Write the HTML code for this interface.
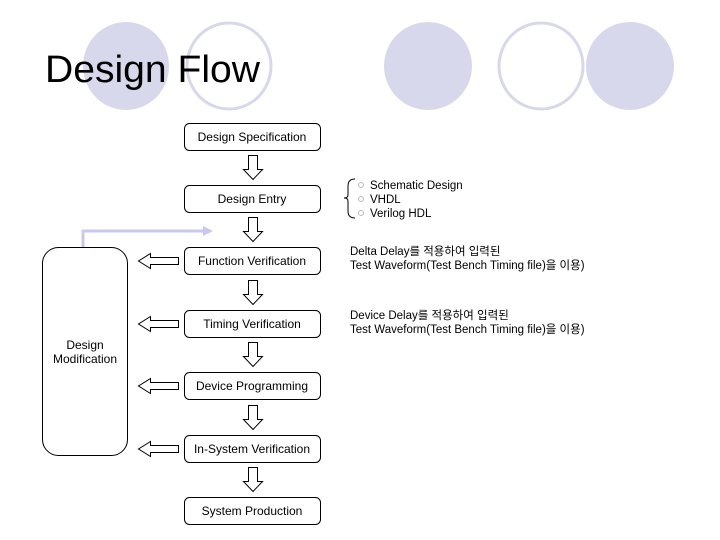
<!DOCTYPE html>
<html><head><meta charset="utf-8"><style>
body{margin:0;background:#fff;}
svg{display:block;}
text{font-family:"Liberation Sans","Noto Sans CJK KR",sans-serif;fill:#000;}
</style></head><body>
<svg width="720" height="540" viewBox="0 0 720 540" xmlns="http://www.w3.org/2000/svg">
<ellipse cx="126" cy="66" rx="43" ry="44" fill="#d8d8ec"/>
<ellipse cx="229" cy="66" rx="42" ry="43" fill="#fff" stroke="#d8d8ec" stroke-width="3"/>
<ellipse cx="428" cy="66" rx="44" ry="44" fill="#d8d8ec"/>
<ellipse cx="541" cy="66" rx="42" ry="43" fill="#fff" stroke="#d8d8ec" stroke-width="3"/>
<ellipse cx="630" cy="66" rx="44" ry="44" fill="#d8d8ec"/>
<text x="45" y="82" font-size="38" textLength="215" lengthAdjust="spacingAndGlyphs">Design Flow</text>

<g fill="#fff" stroke="#000" stroke-width="1">
<rect x="184.5" y="123.5" width="136" height="27" rx="5"/>
<rect x="184.5" y="185.5" width="136" height="27" rx="5"/>
<rect x="184.5" y="247.5" width="136" height="27" rx="5"/>
<rect x="184.5" y="310.5" width="136" height="27" rx="5"/>
<rect x="184.5" y="372.5" width="136" height="27" rx="5"/>
<rect x="184.5" y="435.5" width="136" height="27" rx="5"/>
<rect x="184.5" y="497.5" width="136" height="27" rx="5"/>
<rect x="42.5" y="247.5" width="85" height="208" rx="16"/>
</g>
<g font-size="12" text-anchor="middle">
<text x="252" y="141">Design Specification</text>
<text x="252" y="203">Design Entry</text>
<text x="252" y="265">Function Verification</text>
<text x="252" y="328">Timing Verification</text>
<text x="252" y="390">Device Programming</text>
<text x="252" y="453">In-System Verification</text>
<text x="252" y="515">System Production</text>
<text x="85" y="349">Design</text>
<text x="85" y="363">Modification</text>
</g>

<g fill="#fff" stroke="#000" stroke-width="1">
<polygon points="248.5,155.5 257.5,155.5 257.5,169.5 262.5,169.5 253,179.5 243.5,169.5 248.5,169.5"/>
<polygon points="248.5,217.5 257.5,217.5 257.5,231.5 262.5,231.5 253,241.5 243.5,231.5 248.5,231.5"/>
<polygon points="248.5,280.5 257.5,280.5 257.5,294.5 262.5,294.5 253,304.5 243.5,294.5 248.5,294.5"/>
<polygon points="248.5,342.5 257.5,342.5 257.5,356.5 262.5,356.5 253,366.5 243.5,356.5 248.5,356.5"/>
<polygon points="248.5,405.5 257.5,405.5 257.5,419.5 262.5,419.5 253,429.5 243.5,419.5 248.5,419.5"/>
<polygon points="248.5,467.5 257.5,467.5 257.5,481.5 262.5,481.5 253,491.5 243.5,481.5 248.5,481.5"/>
<polygon points="178.5,257.5 178.5,264.5 150.5,264.5 150.5,268.5 138.5,261 150.5,253.5 150.5,257.5"/>
<polygon points="178.5,320.5 178.5,327.5 150.5,327.5 150.5,331.5 138.5,324 150.5,316.5 150.5,320.5"/>
<polygon points="178.5,382.5 178.5,389.5 150.5,389.5 150.5,393.5 138.5,386 150.5,378.5 150.5,382.5"/>
<polygon points="178.5,445.5 178.5,452.5 150.5,452.5 150.5,456.5 138.5,449 150.5,441.5 150.5,445.5"/>
</g>

<path d="M83,247 V231 H206" fill="none" stroke="#c8c8f0" stroke-width="3"/>
<polygon points="203,226 213,231 203,236" fill="#c8c8f0"/>

<path d="M355,179 Q348,179 348,186 V195 Q348,198 344,198 Q348,198 348,201 V211 Q348,218 355,218" fill="none" stroke="#000" stroke-width="1"/>
<g fill="none" stroke="#bbb" stroke-width="1">
<circle cx="361" cy="185" r="2.5"/><circle cx="361" cy="199" r="2.5"/><circle cx="361" cy="213" r="2.5"/>
</g>
<g font-size="11.5">
<text x="370" y="189">Schematic Design</text>
<text x="370" y="203">VHDL</text>
<text x="370" y="217">Verilog HDL</text>
<text x="350" y="255">Delta Delay를 적용하여 입력된</text>
<text x="350" y="269">Test Waveform(Test Bench Timing file)을 이용)</text>
<text x="350" y="319">Device Delay를 적용하여 입력된</text>
<text x="350" y="333">Test Waveform(Test Bench Timing file)을 이용)</text>
</g>
</svg>
</body></html>
